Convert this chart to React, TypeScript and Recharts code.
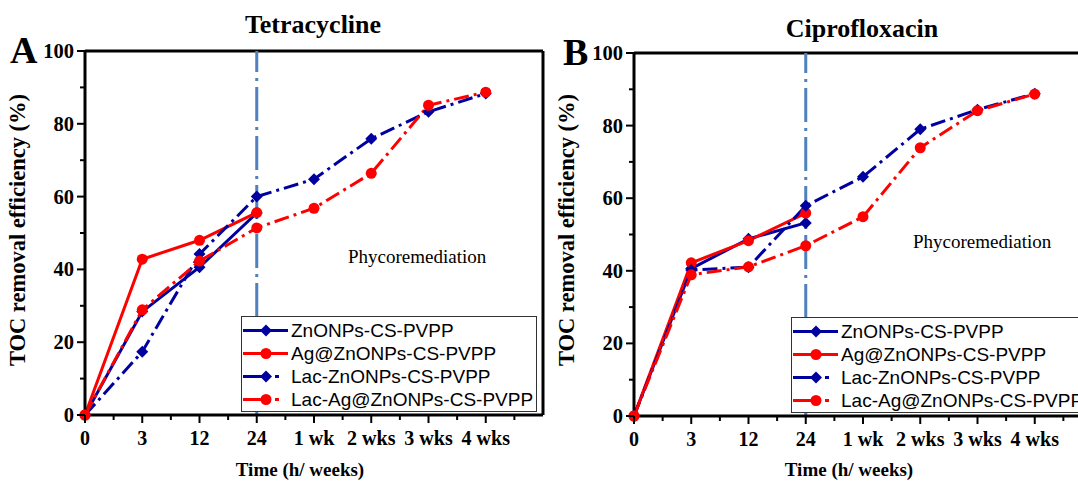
import { LineChart, Line, XAxis, YAxis, ReferenceLine } from "recharts";

// x categories (equally spaced), axis runs one slot past the last one
const X_LABELS = ["0", "3", "12", "24", "1 wk", "2 wks", "3 wks", "4 wks"];
const X_TICKS = [0, 0.5, 1, 1.5, 2, 2.5, 3, 3.5, 4, 4.5, 5, 5.5, 6, 6.5, 7, 7.5];
const Y_TICKS = [0, 10, 20, 30, 40, 50, 60, 70, 80, 90, 100];

// Tetracycline (panel A)
const tcZn = [0, 28.4, 40.6, 55.5];
const tcAg = [0, 42.8, 48.0, 55.6];
const tcLacZn = [0, 17.4, 44.2, 60.0, 64.8, 75.9, 83.3, 88.3];
const tcLacAg = [0, 28.9, 42.3, 51.4, 56.8, 66.4, 85.1, 88.7];

// Ciprofloxacin (panel B)
const cipZn = [0, 40.6, 48.8, 53.2];
const cipAg = [0, 42.2, 48.3, 55.9];
const cipLacZn = [0, 40.2, 41.0, 57.9, 65.9, 79.0, 84.4, 88.8];
const cipLacAg = [0, 38.9, 41.1, 46.9, 54.9, 73.9, 84.1, 88.7];

const BLUE = "#0000a0";
const RED = "#ff0000";
const REF = "#4f81bd";
const DASHDOT = "15 5 3 5";
const SERIF = "'Liberation Serif', 'Times New Roman', serif";
const SANS = "'Liberation Sans', Arial, sans-serif";

const SERIES = [
  { key: "zn", name: "ZnONPs-CS-PVPP", color: BLUE, shape: "diamond", dash: undefined },
  { key: "ag", name: "Ag@ZnONPs-CS-PVPP", color: RED, shape: "circle", dash: undefined },
  { key: "lacZn", name: "Lac-ZnONPs-CS-PVPP", color: BLUE, shape: "diamond", dash: DASHDOT },
  { key: "lacAg", name: "Lac-Ag@ZnONPs-CS-PVPP", color: RED, shape: "circle", dash: DASHDOT },
];

function buildRows(zn: number[], ag: number[], lacZn: number[], lacAg: number[]) {
  return X_LABELS.map((_, i) => ({
    x: i,
    zn: zn[i] ?? null,
    ag: ag[i] ?? null,
    lacZn: lacZn[i] ?? null,
    lacAg: lacAg[i] ?? null,
  }));
}

function Marker({ cx, cy, shape, color }: any) {
  if (cx == null || cy == null) return null;
  if (shape === "diamond") {
    const r = 6;
    return <path d={`M${cx},${cy - r}L${cx + r},${cy}L${cx},${cy + r}L${cx - r},${cy}Z`} fill={color} />;
  }
  return <circle cx={cx} cy={cy} r={5.5} fill={color} />;
}

function XTick({ x, y, payload }: any) {
  const v = payload.value;
  const major = Number.isInteger(v);
  return (
    <g>
      <line x1={x} x2={x} y1={y} y2={y + (major ? 8 : 5)} stroke="#000" strokeWidth={2} />
      {major && (
        <text x={x} y={y + 30} textAnchor="middle" fontFamily={SERIF} fontWeight="bold" fontSize={20} fill="#000">
          {X_LABELS[v]}
        </text>
      )}
    </g>
  );
}

function YTick({ x, y, payload }: any) {
  const v = payload.value;
  const major = v % 20 === 0;
  return (
    <g>
      <line x1={x - (major ? 8 : 5)} x2={x} y1={y} y2={y} stroke="#000" strokeWidth={2} />
      {major && (
        <text x={x - 11} y={y + 7} textAnchor="end" fontFamily={SERIF} fontWeight="bold" fontSize={20.5} fill="#000">
          {v}
        </text>
      )}
    </g>
  );
}

function LegendBox({ left, top }: { left: number; top: number }) {
  return (
    <div
      style={{
        position: "absolute",
        left,
        top,
        width: 296,
        height: 96,
        background: "#fff",
        border: "1px solid #333",
        boxSizing: "border-box",
        fontFamily: SANS,
        fontSize: 19,
        color: "#000",
        paddingTop: 2,
      }}
    >
      {SERIES.map((s) => (
        <div key={s.key} style={{ display: "flex", alignItems: "center", height: 23 }}>
          <svg width={48} height={23} style={{ flex: "none" }}>
            <line x1={1} x2={46} y1={11.5} y2={11.5} stroke={s.color} strokeWidth={3} strokeDasharray={s.dash ? "26 6 4 10" : undefined} />
            <Marker cx={24} cy={11.5} shape={s.shape} color={s.color} />
          </svg>
          <span style={{ whiteSpace: "nowrap", marginLeft: 1 }}>{s.name}</span>
        </div>
      ))}
    </div>
  );
}

function Panel({ rows, top }: { rows: any[]; top: number }) {
  return (
    <LineChart width={560} height={486} data={rows} margin={{ top, right: 17, bottom: 0, left: 0 }}>
      <XAxis
        type="number"
        dataKey="x"
        domain={[0, 8]}
        ticks={X_TICKS}
        interval={0}
        height={486 - top - (top === 51 ? 364 : 363)}
        tickSize={0}
        tickMargin={0}
        tick={<XTick />}
        tickLine={false}
        axisLine={{ stroke: "#000", strokeWidth: 3 }}
        allowDecimals
        label={{
          content: () => (
            <text x={300} y={476} textAnchor="middle" fontFamily={SERIF} fontWeight="bold" fontSize={19} fill="#000">
              Time (h/ weeks)
            </text>
          ),
        }}
      />
      <YAxis
        type="number"
        domain={[0, 100]}
        ticks={Y_TICKS}
        interval={0}
        width={85}
        tickSize={0}
        tickMargin={0}
        tick={<YTick />}
        tickLine={false}
        axisLine={{ stroke: "#000", strokeWidth: 3 }}
        label={{
          content: () => (
            <text
              x={25}
              y={230}
              transform="rotate(-90 25 230)"
              textAnchor="middle"
              fontFamily={SERIF}
              fontWeight="bold"
              fontSize={22.5}
              fill="#000"
            >
              TOC removal efficiency (%)
            </text>
          ),
        }}
      />
      <ReferenceLine y={100} stroke="#000" strokeWidth={3} />
      <ReferenceLine x={8} stroke="#000" strokeWidth={3} />
      <ReferenceLine x={3} stroke={REF} strokeWidth={3} strokeDasharray="34 6 3 6" />
      {SERIES.map((s) => (
        <Line
          key={s.key}
          dataKey={s.key}
          name={s.name}
          stroke={s.color}
          strokeWidth={3}
          strokeDasharray={s.dash}
          connectNulls={false}
          isAnimationActive={false}
          dot={(p: any) => <Marker key={`${s.key}-${p.index}`} cx={p.cx} cy={p.cy} shape={s.shape} color={s.color} />}
          activeDot={false}
        />
      ))}
    </LineChart>
  );
}

export default function App() {
  const rowsA = buildRows(tcZn, tcAg, tcLacZn, tcLacAg);
  const rowsB = buildRows(cipZn, cipAg, cipLacZn, cipLacAg);
  return (
    <div
      style={{
        position: "absolute",
        left: 0,
        top: 0,
        width: 1078,
        height: 486,
        overflow: "hidden",
        background: "#fff",
      }}
    >
      <div style={{ position: "absolute", left: 0, top: 0 }}>
        <Panel rows={rowsA} top={51} />
      </div>
      <div style={{ position: "absolute", left: 549, top: 0 }}>
        <Panel rows={rowsB} top={53} />
      </div>
      <LegendBox left={241} top={316} />
      <LegendBox left={791} top={317} />
      <svg width={1078} height={486} style={{ position: "absolute", left: 0, top: 0, pointerEvents: "none" }}>
        <g fontFamily={SERIF} fill="#000">
          <text x={313} y={33} textAnchor="middle" fontWeight="bold" fontSize={26}>Tetracycline</text>
          <text x={862} y={37} textAnchor="middle" fontWeight="bold" fontSize={26}>Ciprofloxacin</text>
          <text x={10} y={63} fontWeight="bold" fontSize={38}>A</text>
          <text x={563} y={65} fontWeight="bold" fontSize={38}>B</text>
          <text x={348} y={263} fontSize={19}>Phycoremediation</text>
          <text x={913} y={248} fontSize={19}>Phycoremediation</text>
        </g>
      </svg>
    </div>
  );
}
